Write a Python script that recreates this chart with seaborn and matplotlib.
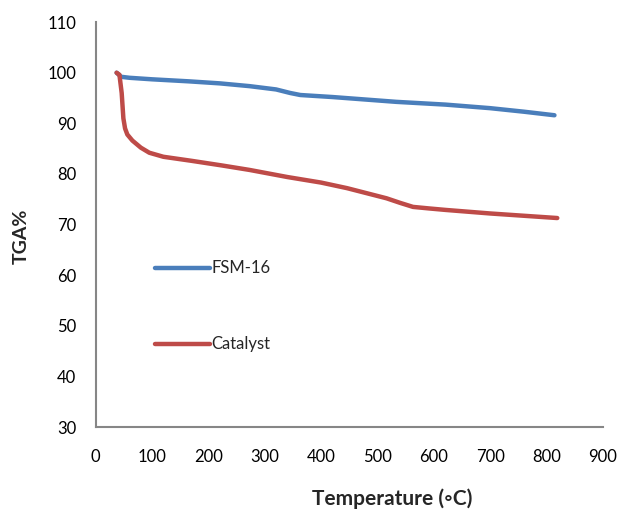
import pandas as pd
import numpy as np
import matplotlib
matplotlib.use('Agg')
import matplotlib.pyplot as plt
import seaborn as sns

# Данные ТГА
fsm_temp = [37, 45, 60, 100, 165, 220, 273, 320, 345, 363, 420, 533, 621, 700, 760, 814]
fsm_tga = [100.0, 99.2, 99.0, 98.7, 98.3, 97.9, 97.35, 96.7, 96.0, 95.6, 95.2, 94.25,
           93.7, 93.0, 92.3, 91.6]

cat_temp = [37, 42, 46, 49, 52, 56, 65, 80, 95, 120, 170, 223, 273, 340, 400, 446,
            516, 540, 563, 591, 621, 700, 819]
cat_tga = [100.0, 99.6, 96.0, 91.0, 89.0, 87.8, 86.6, 85.2, 84.2, 83.4, 82.6, 81.7,
           80.8, 79.4, 78.3, 77.2, 75.2, 74.3, 73.5, 73.2, 72.9, 72.2, 71.3]

series_names = ['FSM-16', 'Catalyst']
PALETTE = {'FSM-16': '#4A7EBB', 'Catalyst': '#BE4B48'}
x_ticks = [0, 100, 200, 300, 400, 500, 600, 700, 800, 900]
y_ticks = [30, 40, 50, 60, 70, 80, 90, 100, 110]

df = pd.concat([
    pd.DataFrame({'T': fsm_temp, 'TGA': fsm_tga, 'sample': series_names[0]}),
    pd.DataFrame({'T': cat_temp, 'TGA': cat_tga, 'sample': series_names[1]}),
])

sns.set_style('white')
plt.rcParams['font.family'] = ['Lato', 'DejaVu Sans']
AX_CLR = '#868686'

fig = plt.figure(figsize=(6.3, 5.14), dpi=100)
ax = fig.add_axes([0.152, 0.169, 0.805, 0.788])
sns.lineplot(data=df, x='T', y='TGA', hue='sample', palette=PALETTE,
             hue_order=series_names, sort=False, lw=3.2, ax=ax,
             solid_capstyle='round', solid_joinstyle='round')

ax.set_xlim(0, 900); ax.set_ylim(30, 110)
ax.set_xticks(x_ticks); ax.set_yticks(y_ticks)
for s in ['top', 'right']:
    ax.spines[s].set_visible(False)
for s in ['left', 'bottom']:
    ax.spines[s].set_color(AX_CLR); ax.spines[s].set_linewidth(1.5)
ax.tick_params(axis='both', direction='out', length=5, width=1.2, color=AX_CLR,
               labelsize=12, labelcolor='black')
ax.tick_params(axis='x', pad=11)
ax.tick_params(axis='y', pad=9)
ax.set_xlabel('Temperature (\u25e6C)', fontsize=15, fontweight='bold')
ax.set_ylabel('TGA%', fontsize=14, fontweight='bold')
ax.xaxis.set_label_coords(0.584, -0.152)
ax.yaxis.set_label_coords(-0.13, 0.472)

ax.legend(loc='center left', bbox_to_anchor=(0.116, 0.298), frameon=False,
          fontsize=12, handlelength=3.3, handletextpad=0.1, labelspacing=3.6,
          borderaxespad=0, borderpad=0)

plt.savefig('out.png', dpi=100)
plt.close()
